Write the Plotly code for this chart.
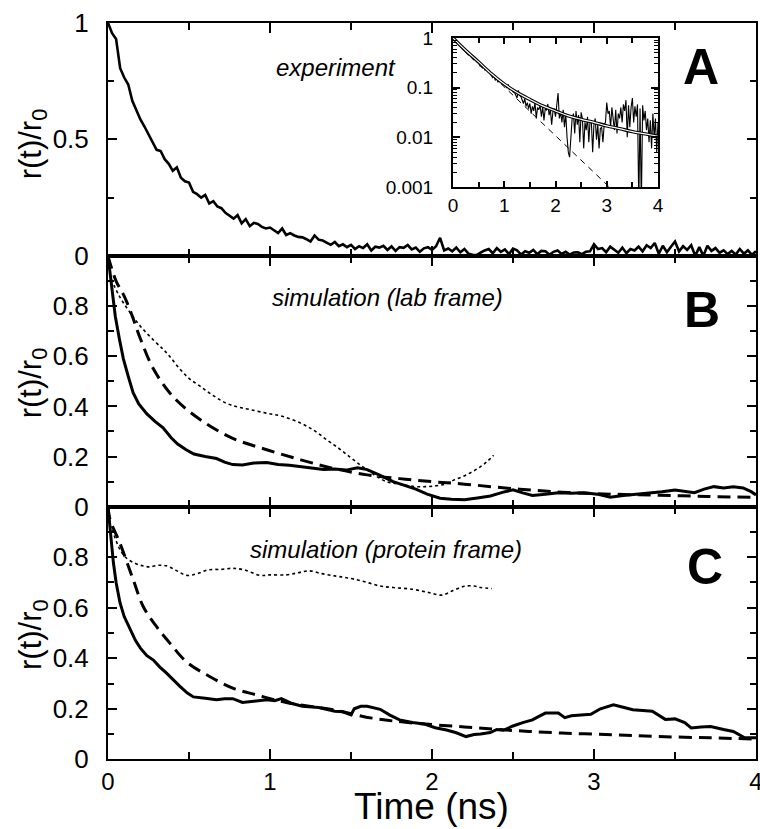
import plotly.graph_objects as go

FONT = "Liberation Sans, Arial, Helvetica, sans-serif"

# ---------------- Panel A: experiment ----------------
exp_t = [round(0.025 * i, 3) for i in range(161)]
exp_r = [1.000, 0.955, 0.930, 0.805, 0.765, 0.735, 0.665, 0.625, 0.585, 0.555,
         0.520, 0.490, 0.455, 0.450, 0.415, 0.395, 0.365, 0.380, 0.335, 0.320,
         0.315, 0.275, 0.265, 0.250, 0.262, 0.225, 0.235, 0.212, 0.205, 0.185,
         0.172, 0.160, 0.175, 0.140, 0.158, 0.128, 0.142, 0.137, 0.125, 0.118,
         0.122, 0.108, 0.098, 0.118, 0.090, 0.098, 0.088, 0.082, 0.080, 0.072,
         0.062, 0.088, 0.070, 0.066, 0.058, 0.048, 0.060, 0.042, 0.050, 0.038,
         0.048, 0.030, 0.042, 0.034, 0.050, 0.024, 0.040, 0.036, 0.044, 0.026,
         0.041, 0.022, 0.038, 0.035, 0.047, 0.028, 0.036, 0.018, 0.033, 0.038,
         0.026, 0.042, 0.078, 0.024, 0.032, 0.020, 0.036, 0.016, 0.030, 0.010,
         0.005, 0.004, 0.014, 0.024, 0.030, 0.012, 0.034, 0.018, 0.028, 0.008,
         0.032, 0.024, 0.006, 0.020, 0.014, 0.026, 0.008, 0.022, 0.020, 0.005,
         0.018, 0.024, 0.009, 0.018, 0.006, 0.015, 0.016, 0.008, 0.018, 0.020,
         0.050, 0.030, 0.034, 0.016, 0.040, 0.026, 0.014, 0.036, 0.012, 0.030,
         0.024, 0.040, 0.020, 0.046, 0.034, 0.056, 0.010, 0.044, 0.016, 0.040,
         0.062, 0.020, 0.042, 0.026, 0.046, 0.0004, 0.038, 0.0004, 0.044, 0.022,
         0.034, 0.014, 0.024, 0.008, 0.022, 0.006, 0.030, 0.010, 0.024, 0.005,
         0.020]

# inset fits
fit_t = [0, 0.25, 0.5, 0.75, 1.0, 1.25, 1.5, 1.75, 2.0, 2.25, 2.5, 2.75, 3.0, 3.25, 3.5, 3.75, 4.0]
fit_r = [1.0, 0.56, 0.33, 0.19, 0.118, 0.08, 0.058, 0.043, 0.034, 0.027, 0.023, 0.020, 0.017, 0.015, 0.013, 0.0117, 0.0105]
single_t = [0, 3.05]
single_r = [1.0, 0.001]

# ---------------- Panel B: lab frame ----------------
b_solid_t = [0, 0.02, 0.045, 0.07, 0.095, 0.125, 0.155, 0.19, 0.24, 0.29, 0.34, 0.39, 0.43, 0.48, 0.53, 0.6,
             0.67, 0.72, 0.77, 0.83, 0.9, 0.98, 1.05, 1.12, 1.19, 1.26, 1.33, 1.4, 1.47, 1.54, 1.6, 1.68,
             1.76, 1.84, 1.9, 1.97, 2.05, 2.12, 2.2, 2.28, 2.36, 2.44, 2.5, 2.56, 2.62, 2.7, 2.78, 2.86,
             2.94, 3.02, 3.1, 3.18, 3.26, 3.35, 3.42, 3.5, 3.56, 3.62, 3.68, 3.74, 3.8, 3.86, 3.92, 3.97, 4.0]
b_solid_r = [1.0, 0.9, 0.76, 0.67, 0.59, 0.52, 0.455, 0.41, 0.37, 0.34, 0.315, 0.275, 0.25, 0.228, 0.21, 0.2,
             0.192, 0.178, 0.168, 0.166, 0.174, 0.176, 0.168, 0.165, 0.16, 0.156, 0.148, 0.15, 0.146, 0.155, 0.148, 0.125,
             0.1, 0.083, 0.07, 0.05, 0.034, 0.03, 0.028, 0.035, 0.043, 0.058, 0.067, 0.055, 0.045, 0.05, 0.056, 0.054,
             0.056, 0.05, 0.038, 0.045, 0.05, 0.053, 0.06, 0.067, 0.06, 0.056, 0.07, 0.08, 0.075, 0.08, 0.075, 0.06, 0.047]
b_dash_t = [0, 0.05, 0.1, 0.15, 0.2, 0.28, 0.4, 0.57, 0.77, 0.98, 1.19, 1.39, 1.6, 1.8, 2.0, 2.2, 2.5, 2.8, 3.1, 3.4, 3.7, 4.0]
b_dash_r = [1.0, 0.9, 0.84, 0.76, 0.67, 0.55, 0.44, 0.347, 0.273, 0.227, 0.187, 0.153, 0.127, 0.112, 0.1, 0.09, 0.072, 0.058, 0.05, 0.046, 0.041, 0.037]
b_dot_t = [0.02, 0.07, 0.13, 0.2, 0.28, 0.34, 0.38, 0.44, 0.5, 0.57, 0.65, 0.73, 0.8, 0.88, 0.98, 1.08, 1.19,
           1.27, 1.35, 1.42, 1.49, 1.55, 1.6, 1.66, 1.72, 1.78, 1.84, 1.9, 1.96, 2.02, 2.08, 2.13, 2.19, 2.25,
           2.3, 2.34, 2.38]
b_dot_r = [0.907, 0.84, 0.78, 0.72, 0.665, 0.628, 0.6, 0.552, 0.512, 0.48, 0.443, 0.413, 0.398, 0.387, 0.373, 0.36, 0.333,
           0.305, 0.267, 0.235, 0.2, 0.17, 0.147, 0.12, 0.1, 0.092, 0.085, 0.08, 0.08, 0.083, 0.09, 0.105, 0.12, 0.14,
           0.16, 0.18, 0.205]

# ---------------- Panel C: protein frame ----------------
c_solid_t = [0, 0.015, 0.033, 0.05, 0.074, 0.1, 0.136, 0.17, 0.2, 0.24, 0.28, 0.32, 0.36, 0.4, 0.444, 0.49, 0.527,
             0.6, 0.67, 0.72, 0.77, 0.83, 0.9, 0.98, 1.03, 1.07, 1.13, 1.2, 1.3, 1.4, 1.45, 1.5, 1.52, 1.56, 1.6,
             1.68, 1.74, 1.8, 1.88, 1.95, 2.02, 2.09, 2.15, 2.21, 2.26, 2.3, 2.36, 2.4, 2.44, 2.5, 2.56, 2.62, 2.66,
             2.7, 2.78, 2.82, 2.86, 2.92, 2.98, 3.04, 3.12, 3.18, 3.24, 3.3, 3.36, 3.44, 3.5, 3.56, 3.6, 3.66, 3.72,
             3.8, 3.86, 3.93, 4.0]
c_solid_r = [1.0, 0.9, 0.78, 0.7, 0.62, 0.565, 0.514, 0.47, 0.44, 0.41, 0.393, 0.365, 0.342, 0.315, 0.289, 0.262, 0.247,
             0.242, 0.236, 0.24, 0.24, 0.225, 0.23, 0.236, 0.232, 0.24, 0.222, 0.21, 0.205, 0.19, 0.188, 0.176, 0.2, 0.21, 0.21,
             0.198, 0.175, 0.156, 0.146, 0.14, 0.125, 0.116, 0.105, 0.09, 0.098, 0.1, 0.106, 0.118, 0.115, 0.132, 0.145, 0.156, 0.17,
             0.183, 0.183, 0.165, 0.172, 0.176, 0.178, 0.2, 0.216, 0.206, 0.196, 0.193, 0.19, 0.158, 0.16, 0.145, 0.124, 0.128, 0.13,
             0.118, 0.11, 0.085, 0.085]
c_dash_t = [0, 0.012, 0.074, 0.156, 0.218, 0.3, 0.383, 0.486, 0.63, 0.774, 0.917, 1.1, 1.39, 1.63, 1.88, 2.2, 2.5, 2.8, 3.12, 3.4, 3.72, 4.0]
c_dash_r = [1.0, 0.95, 0.855, 0.71, 0.604, 0.525, 0.459, 0.385, 0.327, 0.281, 0.255, 0.225, 0.196, 0.163, 0.144, 0.128, 0.114, 0.104, 0.097, 0.09, 0.085, 0.08]
c_dot_t = [0.01, 0.03, 0.074, 0.115, 0.17, 0.22, 0.26, 0.31, 0.36, 0.42, 0.486, 0.55, 0.62, 0.7, 0.77, 0.84, 0.94, 1.0, 1.1,
           1.17, 1.24, 1.32, 1.4, 1.46, 1.52, 1.6, 1.68, 1.76, 1.88, 1.98, 2.06, 2.13, 2.2, 2.26, 2.3, 2.37]
c_dot_r = [0.93, 0.9, 0.83, 0.796, 0.775, 0.765, 0.762, 0.768, 0.766, 0.748, 0.728, 0.735, 0.75, 0.752, 0.756, 0.75, 0.728, 0.73, 0.73,
           0.738, 0.746, 0.735, 0.726, 0.72, 0.713, 0.7, 0.686, 0.68, 0.673, 0.66, 0.65, 0.668, 0.685, 0.686, 0.68, 0.676]

W, H = 760, 829
def px(x): return x / W
def py(y): return 1 - y / H

X0, X1 = 108, 756
A_top, A_bot = 22.7, 256
B_top, B_bot = 256, 506.7
C_top, C_bot = 506.7, 759.3
I_l, I_r, I_t, I_b = 453, 658, 38, 187

fig = go.Figure()
SOLID = dict(color="black", width=3)
DASH = dict(color="black", width=3, dash="13px,7px")
DOT = dict(color="black", width=1.6, dash="dot")

fig.add_trace(go.Scatter(x=exp_t, y=exp_r, mode="lines", line=dict(color="black", width=2.6), xaxis="x3", yaxis="y3"))

fig.add_trace(go.Scatter(x=b_solid_t, y=b_solid_r, mode="lines", line=SOLID, xaxis="x2", yaxis="y2"))
fig.add_trace(go.Scatter(x=b_dash_t, y=b_dash_r, mode="lines", line=dict(DASH, shape="spline"), xaxis="x2", yaxis="y2"))
fig.add_trace(go.Scatter(x=b_dot_t, y=b_dot_r, mode="lines", line=dict(DOT, shape="spline"), xaxis="x2", yaxis="y2"))

fig.add_trace(go.Scatter(x=c_solid_t, y=c_solid_r, mode="lines", line=SOLID, xaxis="x", yaxis="y"))
fig.add_trace(go.Scatter(x=c_dash_t, y=c_dash_r, mode="lines", line=dict(DASH, shape="spline"), xaxis="x", yaxis="y"))
fig.add_trace(go.Scatter(x=c_dot_t, y=c_dot_r, mode="lines", line=dict(DOT, shape="spline"), xaxis="x", yaxis="y"))

# inset
fig.add_trace(go.Scatter(x=single_t, y=single_r, mode="lines", line=dict(color="black", width=1, dash="6px,5px"), xaxis="x4", yaxis="y4"))
fig.add_trace(go.Scatter(x=exp_t, y=exp_r, mode="lines", line=dict(color="black", width=1.1), xaxis="x4", yaxis="y4"))
fig.add_trace(go.Scatter(x=fit_t, y=fit_r, mode="lines", line=dict(color="black", width=3.4, shape="spline"), xaxis="x4", yaxis="y4"))
fig.add_trace(go.Scatter(x=fit_t, y=fit_r, mode="lines", line=dict(color="white", width=1.2, shape="spline"), xaxis="x4", yaxis="y4"))

tickfont = dict(family=FONT, size=26, color="black")
xcommon = dict(range=[0, 4], showline=True, linecolor="black", linewidth=2, mirror="ticks",
               ticks="inside", ticklen=10, tickwidth=1.5, tickcolor="black", dtick=1, tick0=0,
               minor=dict(dtick=0.5, ticks="inside", ticklen=7, tickwidth=1.5, tickcolor="black"),
               showgrid=False, zeroline=False, fixedrange=True, tickfont=dict(family=FONT, size=24, color="black"),
               automargin=False, ticklabeloverflow="allow")
ycommon = dict(range=[0, 1], showline=True, linecolor="black", linewidth=2, mirror="ticks",
               ticks="inside", ticklen=9, tickwidth=1.5, tickcolor="black",
               showgrid=False, zeroline=False, tickfont=tickfont, ticklabelstandoff=12, automargin=False)

fig.update_layout(
    template="none",
    width=W, height=H, margin=dict(l=0, r=0, t=0, b=0, pad=0), autosize=False,
    paper_bgcolor="white", plot_bgcolor="white", showlegend=False,
    font=dict(family=FONT, color="black"),
    xaxis=dict(xcommon, domain=[px(X0), px(X1)], anchor="y", showticklabels=True, ticklabelstandoff=0),
    yaxis=dict(ycommon, domain=[py(C_bot), py(C_top)], anchor="x",
               tickvals=[0, 0.2, 0.4, 0.6, 0.8], ticktext=["0", "0.2", "0.4", "0.6", "0.8"],
               minor=dict(tickvals=[0.1, 0.3, 0.5, 0.7, 0.9], ticks="inside", ticklen=6, tickwidth=1.5, tickcolor="black")),
    xaxis2=dict(xcommon, domain=[px(X0), px(X1)], anchor="y2", showticklabels=False),
    yaxis2=dict(ycommon, domain=[py(B_bot), py(B_top)], anchor="x2",
                tickvals=[0, 0.2, 0.4, 0.6, 0.8], ticktext=["0", "0.2", "0.4", "0.6", "0.8"],
                minor=dict(tickvals=[0.1, 0.3, 0.5, 0.7, 0.9], ticks="inside", ticklen=6, tickwidth=1.5, tickcolor="black")),
    xaxis3=dict(xcommon, domain=[px(X0), px(X1)], anchor="y3", showticklabels=False),
    yaxis3=dict(ycommon, domain=[py(A_bot), py(A_top)], anchor="x3",
                tickvals=[0, 0.5, 1], ticktext=["0", "0.5", "1"],
                minor=dict(tickvals=[0.25, 0.75], ticks="inside", ticklen=6, tickwidth=1.5, tickcolor="black")),
    xaxis4=dict(domain=[px(I_l), px(I_r)], anchor="y4", range=[0, 4], dtick=1, tick0=0,
                showline=True, linecolor="black", linewidth=2, mirror="ticks",
                ticks="inside", ticklen=6, tickwidth=1.5, tickcolor="black",
                minor=dict(dtick=0.5, ticks="inside", ticklen=5, tickwidth=1.5, tickcolor="black"),
                showgrid=False, zeroline=False, tickfont=dict(family=FONT, size=19, color="black"),
                ticklabelstandoff=0, automargin=False, ticklabeloverflow="allow"),
    yaxis4=dict(domain=[py(I_b), py(I_t)], anchor="x4", type="log", range=[-3, 0],
                tickvals=[0.001, 0.01, 0.1, 1], ticktext=["0.001", "0.01", "0.1", "1"],
                showline=True, linecolor="black", linewidth=2, mirror="ticks",
                ticks="inside", ticklen=7, tickwidth=1.5, tickcolor="black",
                minor=dict(tickvals=[m * 10 ** e for e in (-3, -2, -1) for m in range(2, 10)],
                           ticks="inside", ticklen=4, tickwidth=1, tickcolor="black"),
                showgrid=False, zeroline=False, tickfont=dict(family=FONT, size=19, color="black"),
                ticklabelstandoff=14, automargin=False),
)

ann = []
ylab = "r(t)/r<sub>0</sub>"
for yc in [(A_top + A_bot) / 2 + 5, (B_top + B_bot) / 2 + 2, (C_top + C_bot) / 2 + 2]:
    ann.append(dict(x=px(33), y=py(yc), xref="paper", yref="paper", text=ylab, textangle=-90,
                    showarrow=False, font=dict(family=FONT, size=31, color="black"),
                    xanchor="center", yanchor="middle"))
ann.append(dict(x=px(431), y=0, xref="paper", yref="paper", text="Time (ns)", showarrow=False,
                font=dict(family=FONT, size=37, color="black"), xanchor="center", yanchor="bottom"))
ann.append(dict(x=px(336), y=py(68), xref="paper", yref="paper", text="<i>experiment</i>", showarrow=False,
                font=dict(family=FONT, size=24, color="black"), xanchor="center", yanchor="middle"))
ann.append(dict(x=px(387), y=py(297), xref="paper", yref="paper", text="<i>simulation (lab frame)</i>", showarrow=False,
                font=dict(family=FONT, size=24, color="black"), xanchor="center", yanchor="middle"))
ann.append(dict(x=px(386), y=py(549), xref="paper", yref="paper", text="<i>simulation (protein frame)</i>", showarrow=False,
                font=dict(family=FONT, size=24, color="black"), xanchor="center", yanchor="middle"))
for letter, (lx, ly) in [("A", (701, 67)), ("B", (702, 310)), ("C", (705, 567))]:
    ann.append(dict(x=px(lx), y=py(ly), xref="paper", yref="paper", text="<b>" + letter + "</b>", showarrow=False,
                    font=dict(family=FONT, size=50, color="black"), xanchor="center", yanchor="middle"))
fig.update_layout(annotations=ann)

fig.write_html("out.html")
